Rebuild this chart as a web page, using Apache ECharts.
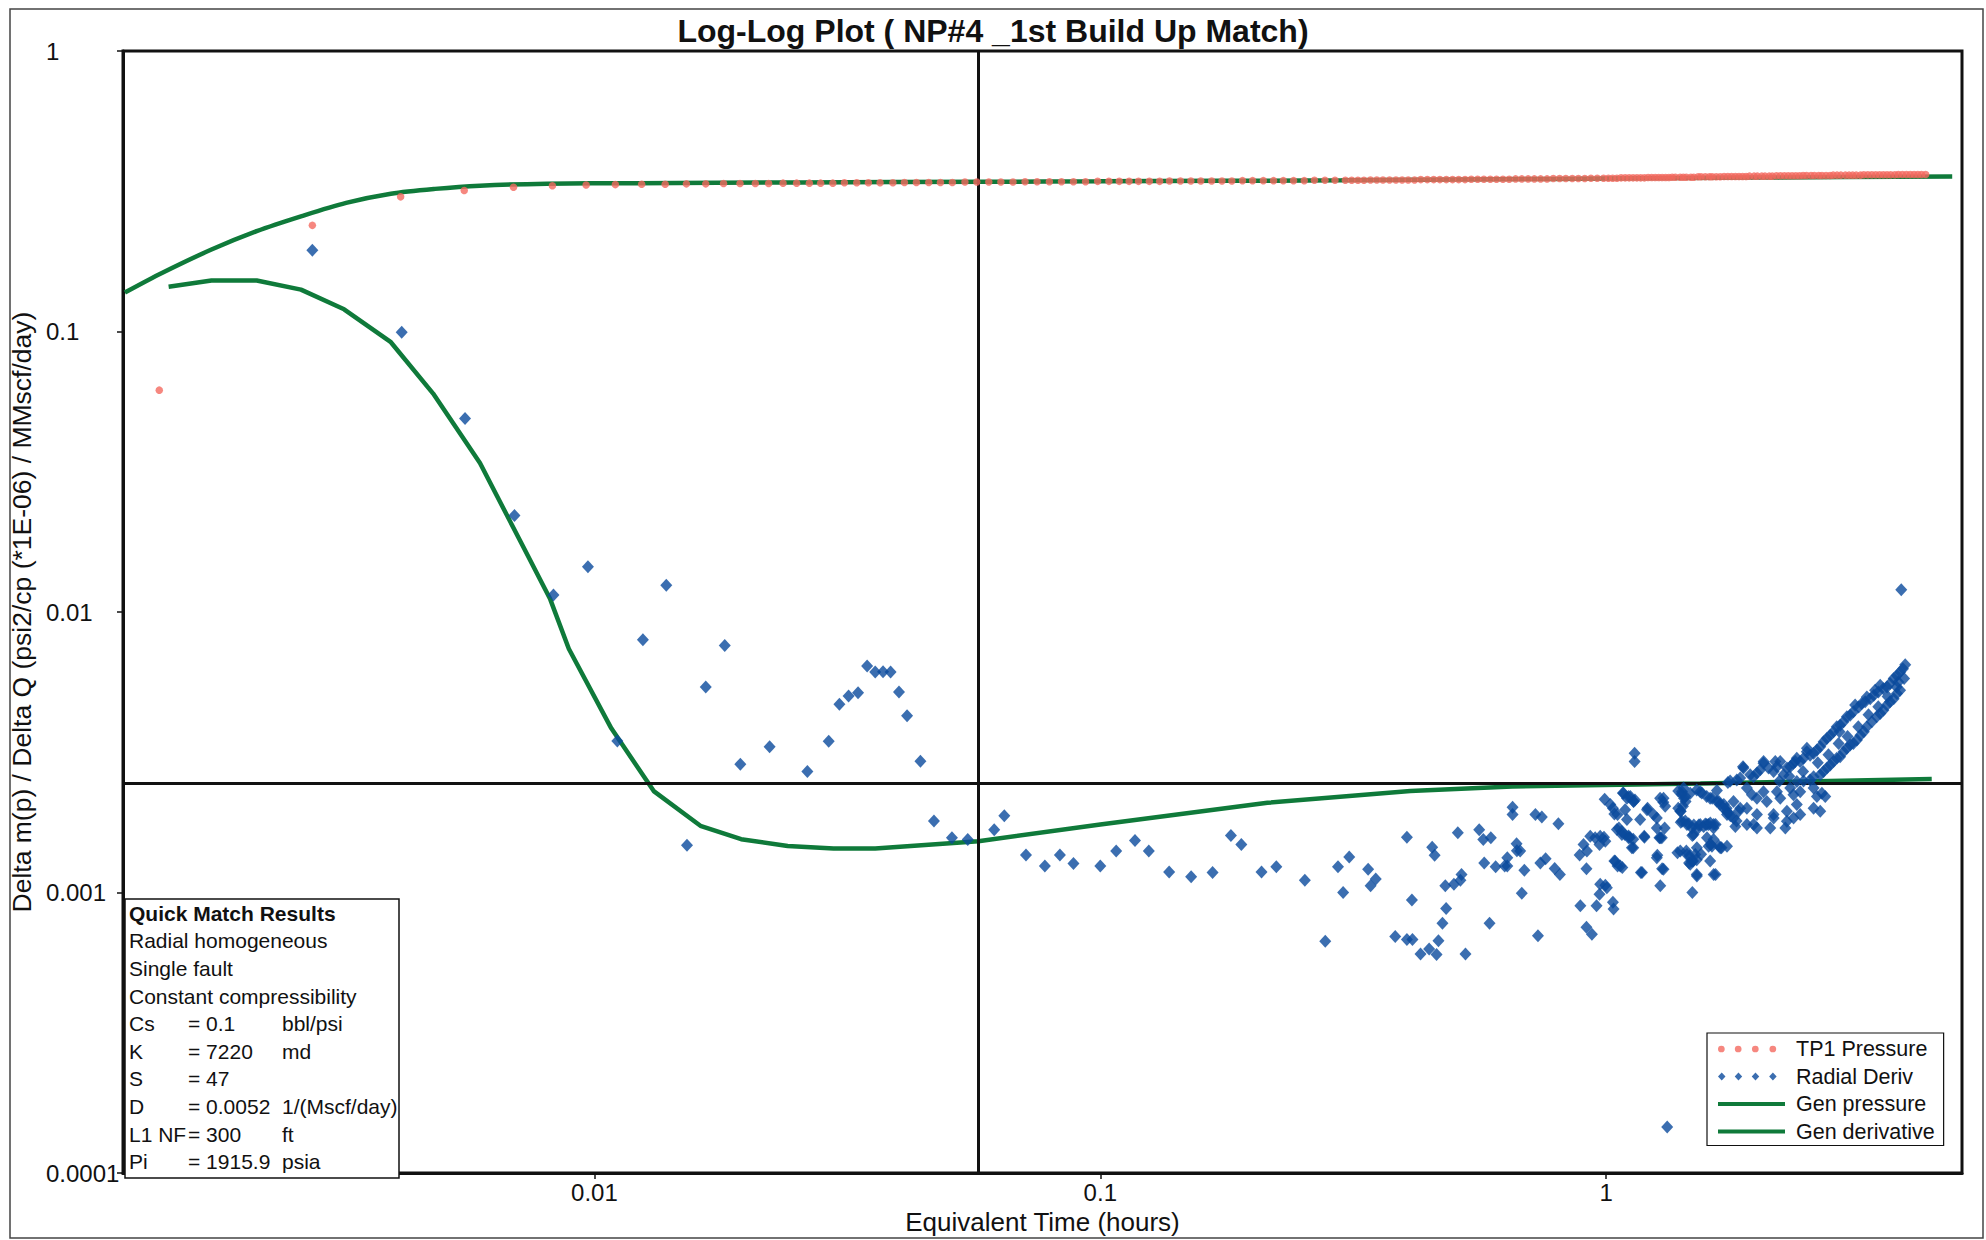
<!DOCTYPE html>
<html>
<head>
<meta charset="utf-8">
<script src="https://cdn.jsdelivr.net/npm/echarts@6/dist/echarts.min.js"></script>
<style>
html,body{margin:0;padding:0;background:#fff;}
#chart{width:1986px;height:1240px;}
</style>
</head>
<body>
<div id="chart"></div>
<script>
// ---------------- DATA ----------------
const chartTitle = 'Log-Log Plot ( NP#4 _1st Build Up Match)';
const xAxisTitle = 'Equivalent Time (hours)';
const yAxisTitle = 'Delta m(p) / Delta Q (psi2/cp (*1E-06) / MMscf/day)';
const xRange = [0.00117, 5.05];
const yRange = [0.0001, 1];
const matchPoint = [0.0573, 0.00245];

const tp1Pressure = [
[0.00138,0.0618],[0.00277,0.239],[0.00414,0.302],[0.00553,0.318],[0.00692,0.327],[0.00826,0.331],[0.00963,0.333],[0.0110,0.334],[0.0124,0.335],[0.0138,0.335],[0.0152,0.336],[0.0166,0.336],[0.0180,0.337],[0.0194,0.337],[0.0208,0.337],[0.0221,0.337],
[0.0236,0.338],[0.0251,0.338],[0.0266,0.338],[0.0280,0.338],[0.0296,0.338],[0.0312,0.339],[0.0330,0.339],[0.0348,0.339],[0.0367,0.339],[0.0389,0.339],[0.0410,0.340],[0.0433,0.340],[0.0458,0.340],[0.0483,0.340],[0.0510,0.340],[0.0540,0.341],[0.0570,0.341],[0.0602,0.341],[0.0636,0.341],[0.0672,0.341],[0.0710,0.342],[0.0750,0.342],[0.0793,0.342],[0.0838,0.342],[0.0885,0.342],[0.0935,0.342],[0.0988,0.343],
[0.104,0.343],[0.109,0.343],[0.114,0.343],[0.119,0.343],[0.125,0.343],[0.131,0.343],[0.137,0.344],[0.144,0.344],[0.151,0.344],[0.158,0.344],[0.166,0.344],[0.174,0.344],[0.182,0.344],[0.191,0.345],[0.200,0.345],[0.210,0.345],[0.220,0.345],[0.230,0.345],[0.241,0.345],[0.253,0.345],[0.265,0.346],[0.278,0.346],[0.291,0.346],[0.305,0.346],
[0.314,0.346],[0.323,0.346],[0.332,0.346],[0.342,0.347],[0.352,0.347],[0.362,0.347],[0.373,0.347],[0.384,0.347],[0.395,0.347],[0.406,0.347],[0.418,0.347],[0.430,0.348],[0.443,0.348],[0.456,0.348],[0.469,0.348],[0.483,0.348],[0.497,0.348],[0.511,0.348],[0.526,0.348],[0.541,0.349],[0.557,0.349],[0.573,0.349],[0.590,0.349],[0.607,0.349],[0.625,0.349],[0.643,0.349],[0.662,0.350],[0.681,0.350],[0.701,0.350],[0.721,0.350],[0.742,0.350],[0.764,0.350],[0.786,0.351],[0.809,0.351],[0.832,0.351],[0.857,0.351],[0.881,0.351],[0.907,0.351],[0.933,0.352],[0.960,0.352],[0.988,0.352],
[1.01,0.352],[1.03,0.352],[1.05,0.352],[1.07,0.353],[1.09,0.353],[1.11,0.353],[1.13,0.353],[1.15,0.353],[1.17,0.353],[1.19,0.353],[1.21,0.354],[1.23,0.354],[1.25,0.354],[1.27,0.354],[1.29,0.354],[1.31,0.354],[1.33,0.354],[1.35,0.355],[1.37,0.355],[1.40,0.355],[1.42,0.355],[1.44,0.355],[1.47,0.355],[1.49,0.355],[1.52,0.356],[1.54,0.356],[1.57,0.356],[1.60,0.356],[1.62,0.356],[1.65,0.356],[1.68,0.356],[1.71,0.357],[1.74,0.357],[1.77,0.357],[1.80,0.357],[1.83,0.357],[1.86,0.357],[1.89,0.357],[1.92,0.358],[1.96,0.358],[1.99,0.358],
[2.03,0.358],[2.06,0.358],[2.10,0.358],[2.13,0.358],[2.17,0.359],[2.21,0.359],[2.25,0.359],[2.29,0.359],[2.33,0.359],[2.37,0.359],[2.41,0.359],[2.45,0.360],[2.49,0.360],[2.54,0.360],[2.58,0.360],[2.63,0.360],[2.67,0.360],[2.72,0.360],[2.77,0.360],[2.81,0.361],[2.86,0.361],[2.91,0.361],[2.97,0.361],[3.02,0.361],[3.07,0.361],[3.12,0.361],[3.18,0.361],[3.23,0.362],[3.29,0.362],[3.35,0.362],[3.41,0.362],[3.47,0.362],[3.53,0.362],[3.59,0.362],[3.65,0.362],[3.72,0.362],[3.78,0.363],[3.85,0.363],[3.92,0.363],[3.99,0.363],[4.06,0.363],[4.13,0.363],[4.20,0.363],[4.28,0.363]
];

const radialDeriv = [
[0.00277,0.195],[0.00416,0.0995],[0.00555,0.049],[0.00695,0.0221],[0.0083,0.0115],[0.00971,0.0145],[0.0111,0.00347],[0.01247,0.00796],[0.01387,0.01247],[0.01524,0.001476],[0.0166,0.0054],[0.0181,0.0076],[0.01943,0.00287],[0.0222,0.00331],[0.02636,0.0027],[0.02905,0.00346],[0.0305,0.00469],[0.0318,0.00502],[0.0332,0.00516],[0.0346,0.00642],[0.0359,0.00611],[0.0372,0.00613],[0.0385,0.00611],[0.0400,0.00519],[0.0415,0.00427],[0.0441,0.00294],[0.0469,0.0018],[0.0509,0.001567],[0.0547,0.001545],[0.0617,0.001675],[0.0646,0.00188],[0.0713,0.00136],[0.0777,0.001245],[0.0832,0.00136],[0.0885,0.00127],[0.100,0.001245],
[0.1075,0.001407],[0.1171,0.001533],[0.1247,0.001407],[0.1368,0.001184],[0.1512,0.001138],[0.1667,0.001178],[0.1812,0.001596],[0.190,0.001483],[0.2083,0.001184],[0.2228,0.001236],[0.2537,0.001107],[0.2784,0.00067],[0.295,0.001236],[0.302,0.001],[0.3105,0.00134],[0.3384,0.00121],[0.3503,0.001117],[0.3422,0.001057],[0.3828,0.000698],[0.4037,0.00068],[0.414,0.00068],[0.413,0.00094],[0.4037,0.001576],[0.4295,0.000604],[0.4467,0.000629],[0.462,0.000601],[0.466,0.000674],[0.4746,0.000778],[0.4826,0.000877],[0.4808,0.001057],[0.500,0.00107],[0.515,0.001107],[0.5176,0.001161],[0.4529,0.00145],[0.458,0.001358],[0.509,0.001634],[0.527,0.000604],[0.561,0.001675],[0.5715,0.001545],[0.5915,0.001567],[0.574,0.001276],[0.6046,0.001236],[0.588,0.000778],[0.6375,0.00133],[0.6375,0.001245],[0.653,0.002013],[0.653,0.0019],[0.665,0.001493],[0.676,0.001407],[0.681,0.000995],[0.689,0.0012],[0.7245,0.0019],[0.746,0.00186],[0.733,0.000702],[0.741,0.001276],[0.759,0.00132],[0.791,0.001219],[0.8044,0.001758],[0.81,0.001161],[0.630,0.001245],[0.666,0.00141],
[0.886,0.00136],[0.902,0.001483],[0.930,0.001589],[0.951,0.001567],[0.970,0.001483],[0.916,0.001407],[0.914,0.001216],[0.889,0.000898],[0.957,0.000898],[1.031,0.000923],[1.034,0.000873],[0.970,0.000986],[0.996,0.001062],[0.990,0.001576],[0.914,0.000752],[0.937,0.000711],
[0.993,0.00215],[1.019,0.00206],[1.031,0.002],[1.038,0.001905],[1.053,0.0019],[1.079,0.002264],[1.099,0.00217],[1.116,0.0022],[1.132,0.002114],[1.14,0.00214],[1.0595,0.0017],[1.073,0.00165],[1.089,0.00161],[1.107,0.00159],[1.114,0.00157],[1.131,0.00155],[1.038,0.001295],[1.053,0.001245],[1.076,0.001228],[1.099,0.00182],[1.131,0.001445],[1.167,0.00182],[1.19,0.001576],[1.207,0.002],[1.171,0.001178],[1.138,0.003136],[1.138,0.00293],
[1.259,0.001845],[1.274,0.001567],[1.278,0.00217],[1.297,0.0021],[1.305,0.0017],[1.262,0.001358],[1.29,0.001216],[1.383,0.001386],[1.388,0.0023],[1.41,0.00224],[1.425,0.00217],[1.435,0.00211],[1.388,0.002],[1.404,0.00195],[1.404,0.00178],[1.433,0.0018],[1.456,0.00176],[1.49,0.00174],[1.524,0.00174],[1.558,0.00172],[1.593,0.00175],[1.645,0.00175],[1.44,0.001407],[1.462,0.00135],[1.485,0.001295],[1.458,0.001276],[1.51,0.00131],[1.54,0.00137],[1.48,0.001596],[1.51,0.001161],[1.48,0.001],[1.32,0.000146],
[1.51,0.002323],[1.545,0.002264],[1.58,0.0022],[1.62,0.00217],[1.655,0.00231],[1.61,0.001483],[1.63,0.001545],[1.605,0.001295],[1.645,0.001161],[1.67,0.001465],[1.69,0.001445],[1.669,0.00211],[1.708,0.00206],[1.73,0.002],[1.74,0.00193],[1.76,0.00188],[1.81,0.0018],[1.80,0.00172],[1.74,0.00247],
[1.422,0.002358],[1.466,0.00226],[1.534,0.00229],[1.605,0.00217],[1.68,0.00206],[1.732,0.00195],[1.897,0.002358],[1.941,0.00223],[1.986,0.00217],[2.046,0.00229],[2.077,0.00211],[2.175,0.00229],[2.208,0.00217],[2.311,0.002358],[2.345,0.00223],[2.418,0.00229],[2.57,0.002358],[2.609,0.0022],[2.669,0.00226],[2.57,0.002],[2.649,0.00195],[2.381,0.00206],[2.276,0.00195],[2.142,0.0019],[1.84,0.002],
[1.785,0.00211],[1.827,0.00195],[1.897,0.001747],[1.956,0.001747],[1.986,0.0017],[2.11,0.0017],[2.26,0.0017],[2.276,0.001795],[2.346,0.001845],[2.418,0.0019],[2.71,0.0022],[2.143,0.001845],[1.656,0.00211],[1.706,0.002],[1.733,0.0019],[1.785,0.001845],[1.58,0.001747],[1.63,0.0017],[1.897,0.002],[1.986,0.0019],
[1.082,0.00226],[1.107,0.0022],[1.133,0.00211],[1.09,0.001975],[1.05,0.001677],[1.074,0.00161],[1.107,0.001567],[1.124,0.001445],[0.973,0.001589],[0.996,0.001524],[0.973,0.00107],[1.003,0.00104],[1.042,0.001294],[1.066,0.001245],[1.177,0.001178],[1.189,0.001589],[1.204,0.001975],[1.24,0.0019],[1.259,0.0017],[1.279,0.001567],[1.298,0.00217],[1.308,0.00203],[1.412,0.00229],[1.433,0.0022],[1.418,0.00203],[1.401,0.00195],[1.412,0.001795],[1.444,0.001747],[1.477,0.0017],[1.511,0.001677],[1.534,0.001747],[1.57,0.001757],[1.606,0.00177],[1.631,0.001747],[1.582,0.001567],[1.594,0.001464],[1.488,0.00161],[1.511,0.001445],[1.5,0.001368],[1.477,0.001294],[1.401,0.001406],[1.444,0.001368],[1.466,0.001262],[1.511,0.001146],[1.631,0.001161],[1.618,0.001464],[1.68,0.001445],[1.733,0.001464],[1.298,0.00121],[1.288,0.001567],[1.259,0.00133],[1.279,0.001057],
[1.758,0.0025],[1.812,0.00252],[1.84,0.00256],[1.868,0.00278],[1.926,0.00263],[1.955,0.00259],[1.986,0.00267],[2.016,0.00274],[2.046,0.00289],[2.094,0.00278],[2.142,0.0027],[2.175,0.00281],[2.208,0.00293],[2.276,0.00278],[2.311,0.00281],[2.345,0.00289],[2.381,0.00301],[2.418,0.00293],[2.455,0.00301],[2.492,0.00318],[2.53,0.00309],[2.57,0.003136],[2.609,0.00322],[2.649,0.00331],[2.69,0.00345],[2.731,0.00355],[2.772,0.00364],[2.813,0.00374],[2.892,0.00374],[2.856,0.0039],[2.90,0.00395],[2.945,0.00406],[2.99,0.00423],[3.035,0.00429],[3.08,0.00441],[3.105,0.00466],[3.155,0.00459],[3.20,0.00472],[3.25,0.00479],[3.275,0.00498],[3.325,0.00491],[3.38,0.00505],[3.40,0.00526],[3.45,0.00519],[3.48,0.00548],[3.53,0.00533],[3.59,0.00541],[3.64,0.00556],[3.78,0.00563],[3.70,0.00579],[3.755,0.00594],[3.81,0.00611],[3.86,0.00628],[3.90,0.00649],
[1.864,0.00281],[2.047,0.00293],[2.159,0.00293],[2.242,0.00263],[2.364,0.00293],[2.493,0.00327],
[2.2,0.0025],[2.3,0.0026],[2.45,0.0027],[2.62,0.0029],[2.75,0.0031],[2.88,0.0034],[3.0,0.0036],[3.15,0.0039],[3.3,0.0043],[3.45,0.0046],[3.6,0.005],[3.75,0.0054],[3.88,0.0058],
[2.381,0.00249],[2.455,0.0025],[2.53,0.00252],[2.57,0.00259],[2.649,0.00263],[2.69,0.0027],[2.731,0.00278],[2.772,0.00285],[2.813,0.00293],[2.856,0.00301],[2.90,0.00305],[2.945,0.00318],[2.99,0.00327],[3.035,0.00336],[3.08,0.0034],[3.13,0.0035],[3.18,0.00364],[3.23,0.00374],[3.275,0.0039],[3.35,0.00406],[3.425,0.00423],[3.48,0.00435],[3.53,0.00447],[3.59,0.00466],[3.64,0.00479],[3.70,0.00491],[3.755,0.00512],[3.81,0.00526],
[3.83,0.012]
];

const genPressure = [
[0.00118,0.1377],[0.0014,0.162],[0.00175,0.196],[0.00215,0.228],[0.00264,0.258],[0.00323,0.2875],[0.00396,0.31],[0.00484,0.3225],[0.00594,0.331],[0.00805,0.3365],[0.0121,0.338],[0.0255,0.340],[0.06,0.342],[0.1,0.343],[0.3,0.346],[0.6,0.349],[1,0.351],[2,0.354],[4.83,0.357]
];

const genDerivative = [
[0.00144,0.1445],[0.00175,0.152],[0.00215,0.152],[0.00263,0.141],[0.0032,0.120],[0.00396,0.0916],[0.0048,0.0601],[0.00594,0.034],[0.00728,0.0167],[0.00818,0.0111],[0.0089,0.0074],[0.0108,0.00385],[0.0131,0.0023],[0.0162,0.00173],[0.0195,0.00155],[0.0241,0.001465],[0.0297,0.001435],[0.0359,0.001435],[0.0443,0.001475],[0.0574,0.001525],[0.1,0.00175],[0.214,0.00209],[0.41,0.0023],[0.652,0.00239],[1.535,0.00245],[4.40,0.00254]
];

const infoTitle = 'Quick Match Results';
const infoLines = ['Radial homogeneous', 'Single fault', 'Constant compressibility'];
const infoParams = [
  ['Cs', '= 0.1', 'bbl/psi'],
  ['K', '= 7220', 'md'],
  ['S', '= 47', ''],
  ['D', '= 0.0052', '1/(Mscf/day)'],
  ['L1 NF', '= 300', 'ft'],
  ['Pi', '= 1915.9', 'psia']
];
const seriesNames = ['TP1 Pressure', 'Radial Deriv', 'Gen pressure', 'Gen derivative'];

// ---------------- STYLE ----------------
const FONT = '"Liberation Sans", Arial, Helvetica, sans-serif';
const RED = '#f4695f';
const BLUE = '#0a4a9c';
const GREEN = '#0f7a3a';

const fmt = v => String(parseFloat(Number(v).toPrecision(6)));

// legend icons (4 dots / 4 diamonds within a 67 x 8 box)
const dotsIcon = 'path://M0,0 M67,8 ' + [2.7, 19.7, 37, 54.7].map(c =>
  `M${c-3.4},4 a3.4,3.4 0 1,0 6.8,0 a3.4,3.4 0 1,0 -6.8,0 Z`).join(' ');
const diamondsIcon = 'path://M0,0 M67,8 ' + [2.7, 19.7, 37, 54.7].map(c =>
  `M${c-3.8},4 L${c},0 L${c+3.8},4 L${c},8 Z`).join(' ');
const lineIcon = 'path://M0,0 M67,8 M0,2 L67,2 L67,6 L0,6 Z';

// info box graphic
const infoGraphic = [];
const boxX = 125, boxY = 899, boxW = 274, boxH = 279, lineH = 27.6, firstY = 913.3;
infoGraphic.push({type: 'rect', shape: {x: boxX, y: boxY, width: boxW, height: boxH},
  style: {fill: '#fff', stroke: '#111', lineWidth: 1.5}, z: 10});
infoGraphic.push({type: 'text', x: 129, y: firstY, z: 11,
  style: {text: infoTitle, font: 'bold 21px ' + FONT, fill: '#111', textVerticalAlign: 'middle'}});
infoLines.forEach((t, i) => infoGraphic.push({type: 'text', x: 129, y: firstY + lineH * (i + 1), z: 11,
  style: {text: t, font: '21px ' + FONT, fill: '#111', textVerticalAlign: 'middle'}}));
infoParams.forEach((row, i) => {
  const y = firstY + lineH * (i + 4);
  [129, 188, 282].forEach((x, j) => {
    if (row[j]) infoGraphic.push({type: 'text', x: x, y: y, z: 11,
      style: {text: row[j], font: '21px ' + FONT, fill: '#111', textVerticalAlign: 'middle'}});
  });
});

const chart = echarts.init(document.getElementById('chart'), null, {renderer: 'svg'});
chart.setOption({
  animation: false,
  backgroundColor: '#fff',
  title: {
    text: chartTitle, left: 'center', top: 15, padding: 0,
    textStyle: {fontFamily: FONT, fontSize: 32, fontWeight: 'bold', color: '#111'}
  },
  grid: {left: 123, right: 24, top: 51, bottom: 63, show: true, borderColor: '#111', borderWidth: 3, backgroundColor: 'transparent'},
  legend: {
    orient: 'vertical', left: 1707, top: 1033,
    padding: [5, 9, 3, 11], itemGap: 5.5, itemWidth: 67, itemHeight: 8,
    backgroundColor: '#fff', borderColor: '#111', borderWidth: 1.2,
    textStyle: {fontFamily: FONT, fontSize: 21.5, color: '#111', lineHeight: 21, padding: [0, 0, 0, 6]},
    data: [
      {name: seriesNames[0], icon: dotsIcon},
      {name: seriesNames[1], icon: diamondsIcon},
      {name: seriesNames[2], icon: lineIcon, itemStyle: {color: GREEN}},
      {name: seriesNames[3], icon: lineIcon, itemStyle: {color: GREEN}}
    ]
  },
  xAxis: {
    type: 'log', logBase: 10, min: xRange[0], max: xRange[1],
    name: xAxisTitle, nameLocation: 'middle', nameGap: 33,
    nameTextStyle: {fontFamily: FONT, fontSize: 26, color: '#111'},
    axisLine: {show: true, lineStyle: {color: '#111', width: 3}},
    axisTick: {show: true, length: 6, lineStyle: {color: '#111', width: 1.5}},
    axisLabel: {fontFamily: FONT, fontSize: 24, color: '#111', margin: 7, showMinLabel: false, showMaxLabel: false, formatter: fmt},
    splitLine: {show: false}
  },
  yAxis: {
    type: 'log', logBase: 10, min: yRange[0], max: yRange[1],
    name: yAxisTitle, nameLocation: 'middle', nameRotate: 90, nameGap: 88,
    nameTextStyle: {fontFamily: FONT, fontSize: 26.5, color: '#111'},
    axisLine: {show: true, lineStyle: {color: '#111', width: 3}},
    axisTick: {show: true, length: 6, lineStyle: {color: '#111', width: 1.5}},
    axisLabel: {fontFamily: FONT, fontSize: 24, color: '#111', margin: 77, align: 'left', formatter: fmt},
    splitLine: {show: false}
  },
  graphic: [
    {type: 'rect', shape: {x: 10, y: 9, width: 1973, height: 1229}, style: {fill: 'none', stroke: '#444', lineWidth: 1.5}, z: -1, silent: true}
  ].concat(infoGraphic),
  series: [
    {
      name: seriesNames[2], type: 'line', data: genPressure, symbol: 'none', smooth: 0.3,
      lineStyle: {color: GREEN, width: 4.5}, itemStyle: {color: GREEN}, z: 2
    },
    {
      name: seriesNames[3], type: 'line', data: genDerivative, symbol: 'none',
      lineStyle: {color: GREEN, width: 4.5}, itemStyle: {color: GREEN}, z: 2,
      markLine: {
        silent: true, symbol: 'none', label: {show: false}, z: 3,
        lineStyle: {color: '#111', width: 3, type: 'solid'},
        data: [
          [{coord: [matchPoint[0], yRange[0]]}, {coord: [matchPoint[0], yRange[1]]}],
          [{coord: [xRange[0], matchPoint[1]]}, {coord: [xRange[1], matchPoint[1]]}]
        ]
      }
    },
    {
      name: seriesNames[0], type: 'scatter', data: tp1Pressure,
      symbol: 'circle', symbolSize: 7.5, itemStyle: {color: RED}, z: 4
    },
    {
      name: seriesNames[1], type: 'scatter', data: radialDeriv,
      symbol: 'diamond', symbolSize: [12, 13], itemStyle: {color: BLUE}, z: 5
    }
  ]
});
</script>
</body>
</html>
